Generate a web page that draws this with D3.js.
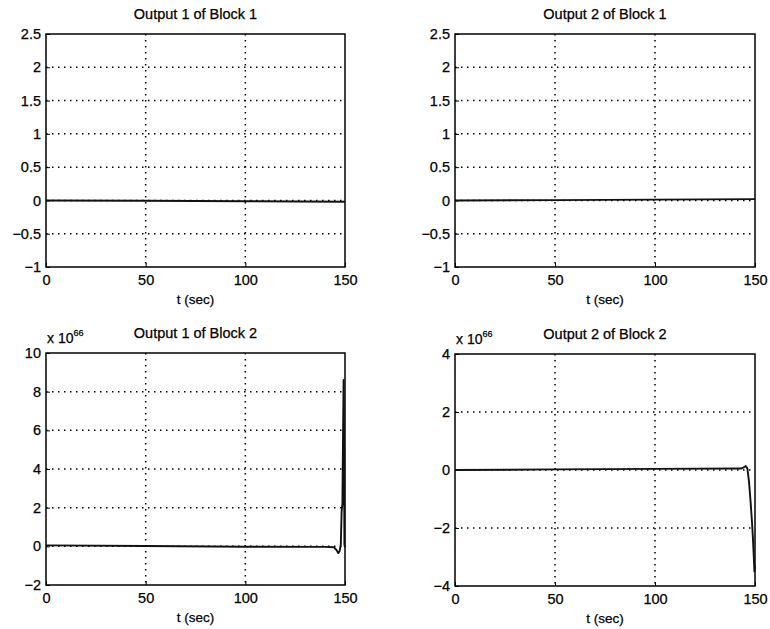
<!DOCTYPE html>
<html>
<head>
<meta charset="utf-8">
<script src="https://cdn.jsdelivr.net/npm/d3@7"></script>
<style>
  body { margin: 0; background: #fff; }
  svg text { font-family: "Liberation Sans", Arial, Helvetica, sans-serif; fill: #000; stroke: #000; stroke-width: 0.25px; }
</style>
</head>
<body>
<div id="okvir"></div>
<script>
// vremenska os (s)
const xTicks = [0, 50, 100, 150];

// Block 1 - izlazi gotovo nula
const t_b1o1 = [0, 50, 100, 150];
const y_b1o1 = [0, -0.004, -0.012, -0.02];
const t_b1o2 = [0, 50, 100, 150];
const y_b1o2 = [0, 0.004, 0.012, 0.02];

// Block 2 - u jedinicama 1e66
const t_b2o1 = [0, 50, 100, 140, 144.5, 145.8, 146.6, 147.3, 147.9, 148.3, 148.7, 149.0, 149.3, 149.5, 149.7, 150];
const y_b2o1 = [0.05, 0.02, -0.02, -0.03, -0.05, -0.2, -0.35, -0.25, 0.1, 1.8, 2.2, 5.5, 8.6, 6.0, 0.1, -0.05];
const t_b2o2 = [0, 50, 100, 143, 144.6, 145.4, 146.2, 147.0, 147.8, 148.5, 149.0, 149.4, 149.7, 150];
const y_b2o2 = [0, 0.02, 0.04, 0.05, 0.1, 0.14, 0.05, -0.4, -1.1, -1.8, -2.4, -3.0, -3.5, -3.3];

const yTicks_b1 = [-1, -0.5, 0, 0.5, 1, 1.5, 2, 2.5];
const yTicks_b2o1 = [-2, 0, 2, 4, 6, 8, 10];
const yTicks_b2o2 = [-4, -2, 0, 2, 4];

const naslovi = ["Output 1 of Block 1", "Output 2 of Block 1", "Output 1 of Block 2", "Output 2 of Block 2"];
const eksponent = "66";

const okvir = d3.select("#okvir")
  .append("svg")
    .attr("width", 770)
    .attr("height", 629);

function crtajPanel(p) {
  const g = okvir.append("g");

  const xSkala = d3.scaleLinear().domain([0, 150]).range([p.x0, p.x1]);
  const ySkala = d3.scaleLinear().domain(d3.extent(p.yTicks)).range([p.y1, p.y0]);

  // mreza (tockasta)
  g.selectAll(".vgrid").data(p.xTicks.slice(1, -1)).join("line")
    .attr("x1", d => xSkala(d)).attr("x2", d => xSkala(d))
    .attr("y1", p.y0).attr("y2", p.y1)
    .attr("stroke", "#000").attr("stroke-width", 1.5)
    .attr("stroke-dasharray", "1.5,4.5");
  g.selectAll(".hgrid").data(p.yTicks.slice(1, -1)).join("line")
    .attr("x1", p.x0).attr("x2", p.x1)
    .attr("y1", d => ySkala(d)).attr("y2", d => ySkala(d))
    .attr("stroke", "#000").attr("stroke-width", 1.5)
    .attr("stroke-dasharray", "1.5,4.5");

  // osi s unutarnjim crticama
  const xOs = g.append("g")
    .attr("transform", `translate(0,${p.y1})`)
    .call(d3.axisBottom(xSkala).tickValues(p.xTicks).tickSize(-4).tickPadding(9).tickFormat(d3.format("d")));
  const yOs = g.append("g")
    .attr("transform", `translate(${p.x0},0)`)
    .call(d3.axisLeft(ySkala).tickValues(p.yTicks).tickSize(-4).tickPadding(5).tickFormat(d => d3.format("")(d).replace("-", "\u2013")));
  [xOs, yOs].forEach(os => {
    os.select(".domain").remove();
    os.selectAll("text").style("font-size", "14.5px").attr("font-family", null);
    os.selectAll(".tick line").attr("stroke", "#000");
  });
  xOs.selectAll("text").attr("dy", "0.6em");

  // okvir
  g.append("rect")
    .attr("x", p.x0).attr("y", p.y0)
    .attr("width", p.x1 - p.x0).attr("height", p.y1 - p.y0)
    .attr("fill", "none").attr("stroke", "#000").attr("stroke-width", 1.5);

  // krivulja
  const podaci = p.t.map((t, i) => ({ t: t, v: p.v[i] }));
  g.append("path")
    .datum(podaci)
    .attr("fill", "none")
    .attr("stroke", "#111")
    .attr("stroke-width", 1.9)
    .attr("stroke-linejoin", "round")
    .attr("d", d3.line().x(d => xSkala(d.t)).y(d => ySkala(d.v)));

  // naslov i oznaka osi
  g.append("text")
    .attr("x", (p.x0 + p.x1) / 2).attr("y", p.y0 - 15)
    .attr("text-anchor", "middle")
    .style("font-size", "14.5px")
    .text(p.naslov);
  g.append("text")
    .attr("x", (p.x0 + p.x1) / 2).attr("y", p.y1 + 37)
    .attr("text-anchor", "middle")
    .style("font-size", "13.5px")
    .text("t (sec)");

  if (p.eksp) {
    const e = g.append("text")
      .attr("x", p.x0 + 1).attr("y", p.y0 - 10)
      .style("font-size", "14px");
    e.append("tspan").text("x 10");
    e.append("tspan").attr("dy", -7).style("font-size", "9px").text(eksponent);
  }
}

crtajPanel({ x0: 46, x1: 345, y0: 34, y1: 267, xTicks: xTicks, yTicks: yTicks_b1, t: t_b1o1, v: y_b1o1, naslov: naslovi[0] });
crtajPanel({ x0: 455, x1: 755, y0: 34, y1: 267, xTicks: xTicks, yTicks: yTicks_b1, t: t_b1o2, v: y_b1o2, naslov: naslovi[1] });
crtajPanel({ x0: 46, x1: 345, y0: 353, y1: 585, xTicks: xTicks, yTicks: yTicks_b2o1, t: t_b2o1, v: y_b2o1, naslov: naslovi[2], eksp: true });
crtajPanel({ x0: 455, x1: 755, y0: 354, y1: 586, xTicks: xTicks, yTicks: yTicks_b2o2, t: t_b2o2, v: y_b2o2, naslov: naslovi[3], eksp: true });
</script>
</body>
</html>
